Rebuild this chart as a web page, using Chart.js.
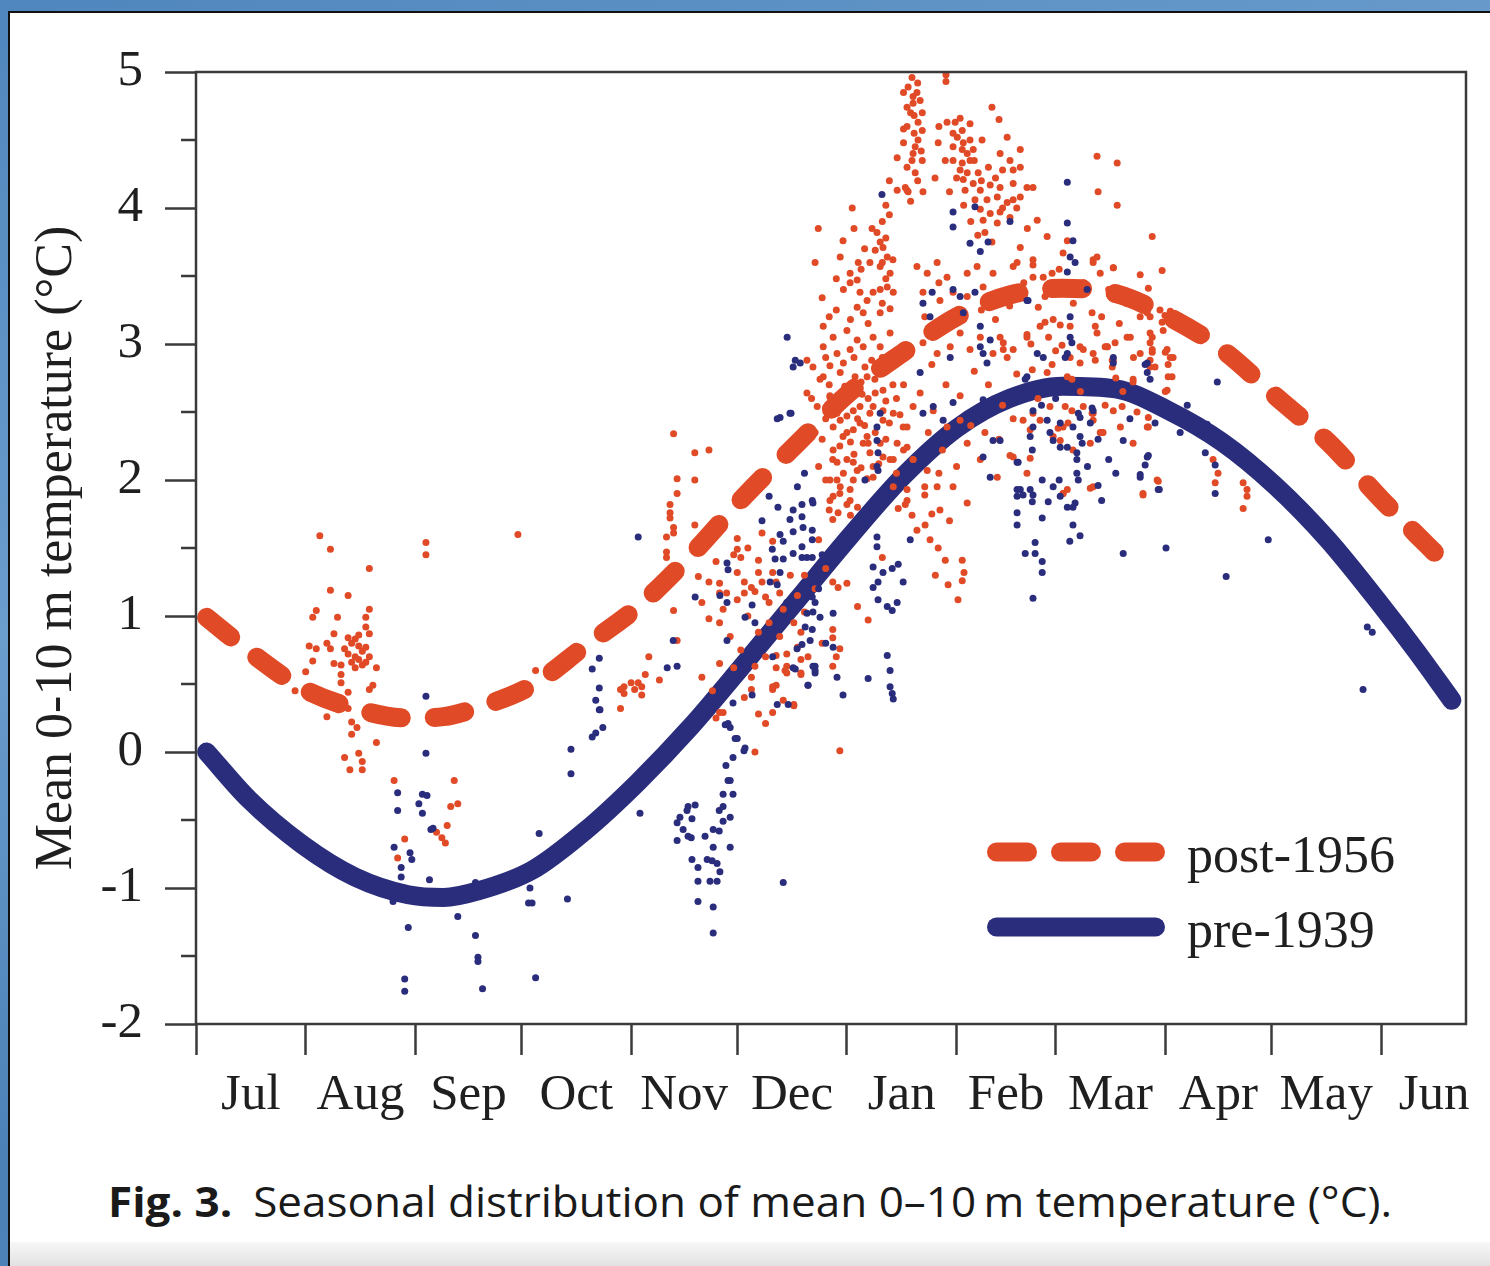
<!DOCTYPE html>
<html>
<head>
<meta charset="utf-8">
<script src="https://cdn.jsdelivr.net/npm/chart.js@4.4.1/dist/chart.umd.min.js"></script>
<style>
  html, body { margin: 0; padding: 0; }
  body {
    width: 1490px; height: 1266px; position: relative; overflow: hidden;
    background: linear-gradient(160deg, #4f86bd 0%, #6b9dcd 35%, #4a80b6 65%, #5d92c5 100%);
  }
  .panel {
    position: absolute; left: 8px; top: 11px; right: 0; bottom: 0;
    background: #fff; border-top: 2px solid #111; border-left: 2px solid #111;
  }
  .shade {
    position: absolute; left: 0; right: 0; bottom: 0; height: 24px;
    background: linear-gradient(#f7f7f7, #e2e2e2);
  }
  #wrap { position: absolute; left: 0; top: 0; width: 1490px; height: 1160px; }
  .caption {
    position: absolute; left: 108px; top: 1180px; white-space: nowrap;
    font-family: "Open Sans", "Noto Sans", sans-serif; font-size: 42px; line-height: 1;
    color: #1a1a1a; transform-origin: 0 0;
  }
  .caption b { font-weight: 700; margin-right: 20px; }
</style>
</head>
<body>
<div class="panel"><div class="shade"></div></div>
<div id="wrap"><canvas id="chart" width="1490" height="1160"></canvas></div>
<div class="caption" id="caption"><b>Fig. 3.</b>Seasonal distribution of mean 0–10&#8201;m temperature (°C).</div>
<script>
// days counted from 1 July
const monthStarts = [0, 31, 62, 92, 123, 153, 184, 215, 243, 274, 304, 335];
const monthMids = [15.5, 46.5, 77, 107.5, 138, 168.5, 199.5, 229, 258.5, 289, 319.5, 350];
const monthNames = ['Jul', 'Aug', 'Sep', 'Oct', 'Nov', 'Dec', 'Jan', 'Feb', 'Mar', 'Apr', 'May', 'Jun'];
const yMinor = [-1.5, -0.5, 0.5, 1.5, 2.5, 3.5, 4.5];

// fitted seasonal curves
const fitDays = [3, 15, 30, 45, 60, 70, 80, 95, 110, 125, 140, 155, 170, 185, 200, 215, 230, 245, 260, 275, 290, 305, 320, 335, 345, 355];
const postFit = [0.99, 0.74, 0.47, 0.32, 0.25, 0.26, 0.33, 0.49, 0.78, 1.07, 1.45, 1.88, 2.27, 2.65, 2.94, 3.20, 3.36, 3.41, 3.37, 3.20, 2.96, 2.62, 2.28, 1.86, 1.60, 1.34];
const preFit = [0.00, -0.35, -0.68, -0.92, -1.05, -1.07, -1.02, -0.87, -0.58, -0.22, 0.19, 0.65, 1.12, 1.59, 2.03, 2.38, 2.60, 2.69, 2.67, 2.51, 2.28, 1.96, 1.56, 1.08, 0.74, 0.38];

// observations [day, temperature]
const postObs = [
  [35,1.59],[38,1.49],[49,1.35],[65,1.54],[65,1.45],[91,1.60],
  [38,1.19],[43,1.15],[34,1.04],[33,0.99],[40,0.99],[49,1.05],[48,0.99],[48,0.92],[49,0.87],[39,0.87],[37,0.80],[38,0.76],
  [44,0.80],[45,0.83],[46,0.78],[47,0.74],[45,0.70],[43,0.72],[44,0.66],[46,0.68],[48,0.77],[47,0.64],[42,0.76],[45,0.62],[49,0.70],[43,0.84],[46,0.86],[48,0.66],
  [32,0.78],[34,0.76],[33,0.67],[39,0.65],[41,0.64],[51,0.62],[31,0.59],[41,0.57],[41,0.51],[43,0.44],[50,0.49],[49,0.46],[28,0.45],[37,0.26],[43,0.32],[44,0.22],[45.5,0.18],[44,0.13],[51,0.07],[42,-0.04],[43.5,-0.13],[46,-0.01],[47,-0.07],[47,-0.13],[56,-0.21],[73,-0.21],[59,-0.64],[57,-0.78],[74,-0.38],[72,-0.40],[71,-0.54],[68,-0.59],[69.5,-0.63],[70.5,-0.67],
  [96,0.60],[120,0.32],[121,0.48],[125,0.51],[120,0.46],[121,0.43],[123,0.51],[124,0.46],[126,0.42],[126,0.48],[127,0.57],[131,0.53],[128,0.70],[136,0.82],[135,1.04],
  [135,2.34],[141,2.20],[145,2.22],[136,2.01],[141,2.00],[136,1.90],[134,1.82],[134,1.76],[134,1.72],[135,1.65],[135,1.61],[133,1.58],[141,1.67],[133,1.47],[133,1.43],[142,1.29],[145,1.25],[148,1.24],[148,1.17],[150,1.17],[148,0.95],[148,0.65],
  [153,1.57],[153,1.49],[154,1.43],[156,1.50],[159,1.41],[159,1.32],[153,1.32],[155,1.25],[157,1.21],[155,1.17],[160,1.61],[163,1.32],[164,1.25],[165,1.17],[153,1.12],[158,1.18],[158,0.63],[164,0.71],[164,0.62],[166.5,0.60],[161,1.14],[162,1.10],[164,0.49],[166,0.38],[169,0.35],[157,0.46],[161,0.21],[163,0.29],[148,0.29],[172,1.03],[171,0.88],[170,0.77],[180,1.25],[181.5,1.21],[184,1.24],[180,0.90],[180,0.84],[180,0.63],[181,0.70],[182,0.76],[187,1.07],[190,0.97],[171,0.68],[171,0.58],[176,1.56],[179,1.78],[180,1.71],[181.5,1.76],[185,1.74],[194,1.43],[198.5,1.79],
  [147,0.25],[149,0.29],[158,0.00],[163,0.48],[163,0.46],[167,0.58],[171,0.57],[169,0.34],[182,0.01],[167,0.63],
  [143,1.10],[145,0.98],[147,1.40],[149,1.05],[151,0.85],[152,1.45],[154,0.75],[156,1.00],[157,0.55],[159,0.88],[160,1.25],[161,0.70],[162,0.95],[163,1.55],[165,0.85],[166,1.05],[167,0.72],[168,1.30],[169,0.95],[170,1.15],[172,1.30],[173,0.70],[175,1.20],[177,0.80],[178,1.35],[143,0.55],[146,0.45],[152,0.62],[155,0.40],[159,0.28],
  [202.4,4.96],[201.3,4.89],[200,4.85],[202.7,4.82],[203.8,4.85],[201,4.74],[202,4.70],[202.7,4.77],[212,4.98],[212,4.93],
  [204.7,4.79],[205.3,4.70],[204.1,4.63],[205.3,4.57],[204.1,4.50],[203.3,4.45],[202.7,4.40],[202.4,4.35],[205.3,4.35],[203.3,4.26],[200.5,4.15],[201.3,4.12],[205.5,4.12],[198.2,4.37],[208.9,4.22],
  [201,4.60],[203,4.55],[200,4.48],[203,4.68],[204,4.92],[201,4.30],[204,4.20],[202,4.05],[205,4.42],[200,4.58],
  [225,4.74],[227,4.65],[212.3,4.63],[214.6,4.63],[218.8,4.62],[216.6,4.57],[215.2,4.52],[216.9,4.48],[218.8,4.50],[222.2,4.50],[214,4.45],[216.6,4.43],[219.7,4.43],[229.3,4.52],[209.8,4.48],[211.8,4.35],[214,4.35],[216.6,4.33],[218.8,4.35],[216,4.28],[218,4.26],[221.1,4.26],[216.9,4.21],[219.7,4.18],[227.3,4.40],[230.1,4.35],[233,4.30],[233,4.43],[231,4.28],[198.2,4.13],[201,4.13],
  [214,4.55],[216,4.66],[218,4.40],[220,4.35],[222,4.20],[224,4.30],[226,4.22],[228,4.00],[215,4.22],[217,4.02],[219,3.90],[221,3.80],[223,3.82],[225,3.75],[228,4.28],[232,4.00],[235,3.85],[213,4.12],[210,4.60],
  [217.4,4.13],[221.7,4.13],[224.5,4.17],[227.3,4.15],[231,4.18],[234.9,4.15],[236.6,4.15],[220.2,4.06],[223.6,4.06],[226.5,4.08],[229.3,4.04],[231,4.06],[233,4.08],[221.7,3.99],[224.5,3.96],[227.3,3.97],[222.5,3.91],[226.5,3.89],[230.1,3.93],
  [237.8,3.91],[240.6,3.79],[242,3.52],[254.7,4.38],[260.4,4.33],[255,4.12],[260.4,4.02],[270.3,3.79],[273.1,3.54],[266.9,3.51],[246.3,3.76],[253.6,3.62],[255.6,3.52],[259.3,3.56],[245.1,3.67],
  [185.5,4.00],[175.9,3.85],[182.9,3.76],[175,3.60],[177,3.34],[187.2,3.60],[182.1,3.64],[184.9,3.52],[186.9,3.47],
  [191.1,3.85],[192.5,3.82],[193.4,3.75],[194.2,3.71],[192,3.69],[195.4,3.64],[193.4,3.57],[196.2,3.52],[190.5,3.60],
  [194,3.90],[195,4.02],[195,3.78],[196,3.95],[194,3.60],[196,4.20],[195,3.48],
  [184.9,3.45],[187.7,3.38],[189.7,3.32],[191.4,3.38],[193.4,3.40],[195.4,3.42],[197.1,3.38],[186.9,3.27],[188.6,3.23],[193.4,3.23],[196.2,3.26],
  [177.3,3.13],[180.1,3.05],[184,3.10],[186.9,3.03],[177.3,2.98],[181.2,2.93],[184.9,2.96],[188.6,2.98],[191.4,3.05],[193.4,2.98],[196.2,3.08],
  [172.7,2.88],[174.4,2.83],[177.3,2.76],[172.7,2.64],[175.6,2.54],[179.2,2.61],[181.2,2.49],[184,2.59],[186.9,2.68],[189.7,2.76],[192.5,2.81],[194.2,2.66],[187.7,2.54],[190.5,2.49],[194.2,2.51],
  [180.1,2.39],[182.9,2.32],[185.8,2.37],[188.6,2.27],[180.1,2.22],[184,2.15],[186.9,2.07],[190.5,2.20],[193.4,2.27],[196.2,2.15],[181.2,2.00],[184.9,1.93],[191.4,2.02],[198.2,2.27],[201,2.39],[202.7,2.15],[206.7,2.07],[209.5,1.95],[201,1.93],[179.2,1.85],[184,1.82],
  [177,2.30],[178,2.45],[179,2.70],[180,2.15],[181,2.58],[182,2.25],[183,2.05],[183,2.86],[184,2.47],[185,2.28],[186,2.90],[186,2.19],[187,2.45],[188,2.09],[188,2.72],[189,2.40],[190,2.60],[190,2.27],[191,2.88],[192,2.35],[192,2.64],[193,2.12],[194,2.90],[195,2.30],[195,2.58],[196,2.42],[197,2.70],[198,2.05],[198,2.60],[199,2.48],[200,2.22],[200,2.70],[176,2.10],[178,2.00],[182,1.90],[187,1.80],[175,2.35],[174,2.60],[178,2.90],[181,3.25],[183,3.40],[185,3.18],[188,3.55],[190,3.15],[194,3.30],[197,3.62],[189,3.70],[186,3.85],[181,3.48],[179,3.20],
  [203.8,3.57],[206.7,3.52],[209.5,3.60],[212.3,3.49],[205.5,3.38],[210.3,3.32],[214,3.38],[218,3.52],[220.8,3.57],[222.5,3.42],[225.3,3.52],[227.3,3.38],[231,3.57],[233,3.71],[236.6,3.62],[239.5,3.49],[243.4,3.38],
  [209.5,3.13],[205.5,3.01],[209.5,2.93],[213.2,2.98],[216,3.08],[218.8,2.96],[221.7,3.05],[225.3,2.93],[227.3,3.05],[231,2.96],[234.9,3.05],[238.6,3.13],[242.3,3.18],[247.1,3.13],[249.9,2.98],[253.6,2.93],[257.6,2.98],[259.3,2.88],[263.2,3.05],[266.9,2.93],[269.7,2.83],
  [206,3.20],[208,2.85],[210,3.45],[212,2.70],[214,3.15],[216,2.62],[218,3.35],[220,2.80],[222,3.25],[224,2.70],[226,3.18],[228,2.55],[230,3.28],[232,2.78],[234,3.45],[236,3.00],[238,2.60],[240,3.35],[242,2.85],[244,3.55],[207,2.35],[211,2.22],[215,2.10],[219,2.40],[223,2.35],[227,2.30],[231,2.45],[210,2.05],[206,1.95],[213,1.70],[208,1.75],
  [204.7,2.64],[208.4,2.51],[212.3,2.39],[216,2.44],[218,2.27],[221.7,2.15],[226.5,2.02],[231,2.17],[234.9,2.05],[238.6,2.44],[242.3,2.32],[245.1,2.39],[247.9,2.22],[253.6,2.49],[255.6,2.35],[259.3,2.51],[261.3,2.39],[264.9,2.27],[268.9,2.39],[271.7,2.00],[267.7,1.90],[253.6,1.95],[245.1,1.90],[214,1.95],[218,1.83],
  [232.1,3.60],[236.6,3.58],[236.6,3.49],[253.6,3.60],[254.7,3.64],[259.3,3.56],[269.2,3.41],
  [238.1,3.27],[240,3.16],[244.3,3.14],[253.3,3.23],[254.2,3.13],[254.7,3.08],[257,2.98],[259.8,3.01],[264.1,3.05],[266.9,3.20],
  [269.7,3.20],[270.3,3.05],[270.3,2.96],[271.1,2.83],[273.4,3.10],[274.5,2.96],[274.8,2.85],[276.2,2.90],[275.9,2.76],[274.5,2.66],[268.9,3.23],
  [228.2,3.01],[228.2,2.96],[229.3,2.90],[234.9,3.07],[236.4,2.81],[240.6,2.79],[244.8,2.99],[247.1,2.90],[250.8,2.96],[249.9,2.86],[254.2,2.88],[259,2.88],[259,2.83],[264.9,2.72],
  [246.3,2.76],[247.6,2.74],[245.7,2.54],[247.6,2.51],[250.8,2.54],[253.3,2.49],[253.6,2.44],[256.1,2.35],[246.5,2.42],[243.7,2.38],[236.6,2.49],[233.8,2.44],[235.8,2.37],[230.1,2.18],[235.8,2.16],[244.3,2.29],[241.4,2.54],[252.8,2.27],
  [248,3.30],[251,3.45],[256,3.20],[258,3.40],[261,3.15],[263,3.30],[265,2.90],[262,2.65],[250,2.65],[257,2.55],[260,2.75],[243,2.95],[241,3.05],[266,2.50],
  [246.3,1.93],[245.1,1.90],[252.8,1.94],[272,1.99],[267.7,1.89],[287.5,2.15],[288.9,2.05],[288.1,1.98],[296,1.98],[297.1,1.93],[297.1,1.88],[296,1.79],
  [269.7,3.08],[269.7,3.01],[270.3,2.94],[269.7,2.88],[274,2.94],[275.4,2.90],[274.8,2.76],[274,2.65],
  [257.6,2.98],[264.9,2.74],[261.8,2.54],[256.4,2.35],[269.2,2.39],[269.2,2.46],
  [272.5,3.25],[273.9,3.21],[275.4,3.24],[276.8,3.19],[274.8,3.18],[273.1,3.16],
  [178.4,2.49],[180.1,2.54],[182.1,2.44],[185.8,2.51],[187.7,2.42],[184,2.35],[189.7,2.32],[191.4,2.54],[194.2,2.44],[197.1,2.49],[199.9,2.39],[202.7,2.54],[201,2.24],[202.7,2.15],[197.1,2.15],[194.2,2.17],[191.4,2.10],[185.8,2.13],[181.2,2.13],[179.2,2.00],[182.1,1.95],[185.8,2.00],[189.7,2.01],[184.9,1.85],[180.1,1.88],[197.1,1.95],[201,1.85],
  [200.5,1.82],[202.4,1.74],[206.1,1.67],[207.5,1.56],[209.8,1.50],[211.8,1.41],[209,1.30],[212.6,1.23],[216.6,1.41],[217.1,1.32],[216.6,1.26],[215.4,1.12],[203.8,1.63],[210.3,1.78],[206,1.89],
  [176.4,2.74],[179.2,2.62],[183.4,2.69],[186.3,2.76],[189.1,2.83],[191.9,2.74],[184.9,2.60],[188.3,2.63],[182.1,2.79],[179.2,2.84]
];

const preObs = [
  [65,0.41],[65,-0.01],[57,-0.30],[57,-0.43],[64,-0.31],[65.3,-0.32],[63,-0.38],[64,-0.45],[66.4,-0.57],[67,-0.56],[56,-0.70],[60.5,-0.74],[61,-0.79],[58,-0.85],[58,-0.92],[55.7,-1.10],[66,-0.94],[79,-0.96],[94.4,-1.00],[94,-1.11],[95,-1.11],[105,-1.08],[60,-1.29],[74,-1.21],[79,-1.35],[79.7,-1.51],[79.7,-1.54],[81,-1.74],[59,-1.67],[59,-1.76],[96,-1.66],[97,-0.60],[106,0.02],[106,-0.16],
  [114,0.69],[112,0.61],[114,0.47],[113,0.38],[114,0.31],[115,0.18],[112,0.11],[113,0.14],[125,1.58],[125.5,-0.45],[114.2,0.31],
  [164.3,2.45],[168.2,2.49],[164.5,1.80],[168.8,1.78],[171.3,1.82],[174.2,1.85],[167.9,1.71],[171.3,1.73],[171.6,1.65],[174.2,1.63],[165.1,1.60],[168.8,1.62],[171.3,1.51],[174.2,1.56],[162.9,1.49],[163.7,1.42],[166,1.42],[168.8,1.46],[171.3,1.43],[172.7,1.43],[174.2,1.43],[150.1,1.39],[150.4,1.34],[165.1,1.32],[162.3,1.25],[164.3,1.23],[141.1,1.14],[148.1,1.15],[150.1,1.10],[157.2,1.08],[155.2,0.99],[134.9,0.82],[150.1,0.82],[133.2,0.62],[136,0.63],[174.2,1.14],[175,1.10],[172.7,1.02],[174.4,1.03],[176.4,0.99],[180.1,1.02],[172.2,0.92],[174.2,0.90],[173.6,0.82],[171.3,0.79],[169.9,0.76],[174.4,0.63],[175,0.60],[173,0.49],[168.8,0.62],[180.1,0.77],[182.9,0.42],[190,0.54],[195.4,0.71],[196.2,0.60],[196.2,0.48],[196.8,0.43],[197.1,0.39],[157.2,0.42],[164.3,0.35],[167.4,0.35],[151.8,0.36],[150.4,0.21],[152.4,0.10],[155.2,0.03],
  [160,1.70],[162,1.88],[166,1.55],[170,1.95],[172,2.05],[176,1.20],[178,0.80],[158,0.95],[163,0.70],[167,1.10],[177,1.45],[155,0.65],
  [191.4,1.36],[194.2,1.32],[196.8,1.35],[198.5,1.38],[199.9,1.25],[192.8,1.25],[191.4,1.21],[192.8,1.12],[195.4,1.07],[198.2,1.10],[196.8,1.04],[192.5,1.58],[192.5,1.51],[201.9,1.56],[189.1,2.00],[192.8,2.07],[192.8,2.20],[192.5,2.29],
  [149.6,0.20],[151,0.18],[153,0.10],[154.9,0.01],[151.8,-0.04],[149.8,-0.10],[150.4,-0.21],[151,-0.21],[149,-0.31],[151.8,-0.31],[149,-0.40],[147.9,-0.43],[149,-0.51],[151,-0.48],[146.2,-0.57],[147.9,-0.58],[143.9,-0.62],[146.2,-0.70],[151,-0.70],[144.5,-0.79],[145.9,-0.80],[147.3,-0.82],[148.1,-0.88],[141.9,-0.85],[140.2,-0.79],[141.9,-0.95],[145.3,-0.95],[147.3,-0.95],[141.9,-1.10],[146.2,-1.14],[146.2,-1.33],[139.1,-0.40],[141.1,-0.39],[138.8,-0.43],[140.2,-0.49],[136.8,-0.48],[136,-0.52],[137.7,-0.57],[139.1,-0.62],[136,-0.65],[140,-0.63],[166,-0.96],
  [169.4,0.61],[173,0.49],[175,0.63],[175,0.58],[181.2,0.55],
  [193.9,4.10],[246.3,4.19],[246.3,3.89],[247.9,3.76],[247.1,3.64],[248.5,3.60],[246.3,3.53],[214,3.97],[214,3.86],[220.2,4.01],[230.1,3.90],[218.8,3.74],[221.7,3.68],[223.9,3.75],[208.1,3.38],[214,3.40],[216,3.35],[220.2,3.38],[251.9,3.40],[234.9,3.32],[205.5,3.30],[207.5,3.20],[216.9,3.23],[167.1,3.05],[169.4,2.88],[170.8,2.86],[168.8,2.83],[247.1,3.20],[247.1,3.05],[247.6,3.01],[246.3,2.93],[221.7,3.13],[224.5,3.03],[221.7,2.98],[222.5,2.93],[223.6,2.86],[237.8,2.93],[239.5,2.90],[234.9,2.76],[213.2,2.90],[204.7,2.79],[205.5,2.49],[208.4,2.54],[211.2,2.44],[214,2.57],[219.7,2.49],[222.5,2.59],[268.9,2.86],[268.9,2.79],[269.7,2.74],[165.1,2.46],[167.9,2.49],[193.4,2.49],[192.5,2.39],[192.5,2.10],
  [225.3,2.29],[222.5,2.17],[224.5,2.02],[232.1,2.13],[233,1.93],[235.8,1.93],[236.6,2.51],[240.6,2.44],[244.3,2.42],[247.9,2.39],[249.9,2.46],[253.6,2.51],[249.9,2.32],[249,2.20],[246.3,2.24],[249,2.15],[249,2.05],[242.3,1.95],[246.3,1.80],[262.1,2.29],[268.9,2.17],[266.9,2.02],[174.4,1.83],
  [252,2.10],[255,2.30],[258,2.15],[260,2.05],[243,2.60],[239,2.55],[256,1.85],[264,2.45],[244,2.00],[247,1.55],
  [235.2,3.32],[245.7,2.90],[259.3,2.90],[259.3,2.86],[268.3,2.85],[288.7,2.72],[234.4,2.74],[280.2,2.55],[271.1,2.42],[278.2,2.35],[227.3,2.29],[232.4,2.13],[236.6,2.39],[235.8,2.32],[236.4,2.22],[241.4,2.35],[242.3,2.29],[244.3,2.24],[249.4,2.49],[250.5,2.27],[249.4,2.00],[253.3,2.53],[252.8,2.42],[239.2,2.00],[232.1,1.93],[232.1,1.88],[233.8,1.89],[236.6,1.89],[236.4,1.84],[240.9,1.84],[244.3,1.88],[232.1,1.76],[232.1,1.67],[239.2,1.72],[247.9,1.80],[248.5,1.83],[247.9,1.67],[249.9,1.59],[255,1.96],[269.2,2.18],[268.3,2.11],[266.9,2.04],[272.3,1.93],[288.1,1.90],[237.2,1.54],[234.4,1.46],[237.2,1.46],[239.2,1.40],[239.2,1.32],[262.1,1.46],[274.2,1.50],[303.1,1.56],[291.2,1.29],[236.6,1.13],
  [285.8,2.41],[285.3,2.20],[288.1,2.11],[331.1,0.92],[332.5,0.88],[329.9,0.46],[272,1.93]
];

const RED = '#e04a26';
const BLUE = '#2a2c7c';
const INK = '#1f1f1f';
const AXIS = '#3a3a3a';
const SERIF = '"Liberation Serif", "Times New Roman", serif';

const toPoints = (pairs) => pairs.map(p => ({ x: p[0], y: p[1] }));
const toCurve = (days, temps) => days.map((d, i) => ({ x: d, y: temps[i] }));

// box round the plot + short minor ticks on the y axis
const frame = {
  id: 'frame',
  afterDraw(chart) {
    const { ctx, chartArea: a, scales } = chart;
    ctx.save();
    ctx.strokeStyle = AXIS;
    ctx.lineWidth = 2.5;
    ctx.strokeRect(a.left, a.top, a.right - a.left, a.bottom - a.top);
    yMinor.forEach(v => {
      const py = scales.y.getPixelForValue(v);
      ctx.beginPath();
      ctx.moveTo(a.left - 15, py);
      ctx.lineTo(a.left, py);
      ctx.stroke();
    });
    ctx.restore();
  }
};

// legend inside the plot, lower right
const insideLegend = {
  id: 'insideLegend',
  afterDraw(chart) {
    const { ctx } = chart;
    const rows = [
      { ds: chart.data.datasets[2], y: 852 },
      { ds: chart.data.datasets[3], y: 927 }
    ];
    ctx.save();
    rows.forEach(r => {
      ctx.strokeStyle = r.ds.borderColor;
      ctx.lineWidth = r.ds.borderWidth;
      ctx.lineCap = 'round';
      ctx.setLineDash(r.ds.borderDash || []);
      ctx.beginPath();
      ctx.moveTo(996.5, r.y);
      ctx.lineTo(1155.5, r.y);
      ctx.stroke();
      ctx.setLineDash([]);
      ctx.fillStyle = INK;
      ctx.font = '52px ' + SERIF;
      ctx.textBaseline = 'alphabetic';
      ctx.fillText(r.ds.label, 1187, r.y + 20);
    });
    ctx.restore();
  }
};

new Chart(document.getElementById('chart'), {
  type: 'scatter',
  data: {
    datasets: [
      { label: 'pre-1939 obs', data: toPoints(preObs), backgroundColor: BLUE, pointRadius: 3.5, pointBorderWidth: 0, order: 0 },
      { label: 'post-1956 obs', data: toPoints(postObs), backgroundColor: RED, pointRadius: 3.5, pointBorderWidth: 0, order: 1 },
      { type: 'line', label: 'post-1956', data: toCurve(fitDays, postFit), borderColor: RED, borderWidth: 19,
        borderDash: [31, 33], borderCapStyle: 'round', cubicInterpolationMode: 'monotone', pointRadius: 0, fill: false, order: 2 },
      { type: 'line', label: 'pre-1939', data: toCurve(fitDays, preFit), borderColor: BLUE, borderWidth: 19,
        borderCapStyle: 'round', cubicInterpolationMode: 'monotone', pointRadius: 0, fill: false, order: 3 }
    ]
  },
  options: {
    responsive: false,
    animation: false,
    layout: { padding: { top: 72, right: 24, bottom: 0, left: 0 } },
    plugins: { legend: { display: false }, tooltip: { enabled: false } },
    scales: {
      x: {
        type: 'linear', min: 0, max: 359,
        afterBuildTicks: (scale) => {
          scale.ticks = monthStarts.concat(monthMids).sort((a, b) => a - b).map(v => ({ value: v }));
        },
        afterFit: (scale) => { scale.height = 136; },
        ticks: {
          autoSkip: false, maxRotation: 0, padding: 10,
          color: INK, font: { family: SERIF, size: 51 },
          callback: (v) => { const i = monthMids.indexOf(v); return i >= 0 ? monthNames[i] : ''; }
        },
        grid: {
          drawOnChartArea: false, tickLength: 31, tickWidth: 2.5,
          tickColor: (c) => monthStarts.includes(c.tick.value) ? AXIS : 'rgba(0,0,0,0)'
        },
        border: { display: false }
      },
      y: {
        min: -2, max: 5,
        afterFit: (scale) => { scale.width = 196; },
        ticks: {
          stepSize: 1, autoSkip: false, padding: 22,
          color: INK, font: { family: SERIF, size: 51 },
          callback: (v) => String(v)
        },
        grid: { drawOnChartArea: false, tickLength: 31, tickWidth: 2.5, tickColor: AXIS },
        border: { display: false },
        title: {
          display: true, text: 'Mean 0-10 m temperature (°C)',
          color: INK, font: { family: SERIF, size: 52 }, padding: { top: 26, bottom: 0 }
        }
      }
    }
  },
  plugins: [frame, insideLegend]
});

// stretch the caption to the width it has in the figure
const cap = document.getElementById('caption');
cap.style.transform = 'scaleX(' + (1284 / cap.getBoundingClientRect().width) + ')';
</script>
</body>
</html>
